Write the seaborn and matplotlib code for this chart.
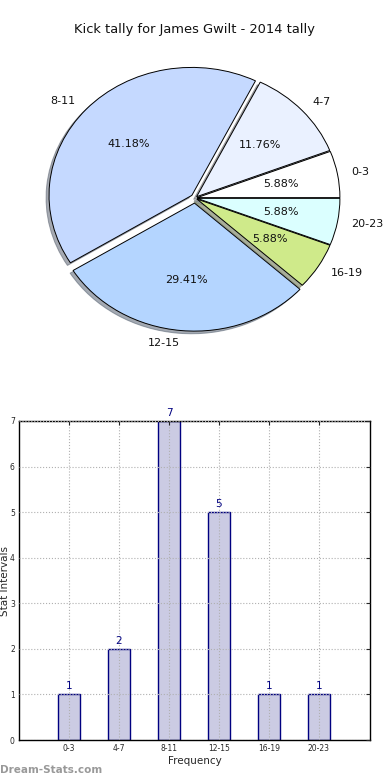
import matplotlib
matplotlib.use("Agg")
import matplotlib.pyplot as plt
import seaborn as sns
import pandas as pd

sns.set_style("white")
plt.rcParams['font.family'] = ['DejaVu Sans']

# ---- data ----
title = "Kick tally for James Gwilt - 2014 tally"
categories = ["0-3", "4-7", "8-11", "12-15", "16-19", "20-23"]
counts = [1, 2, 7, 5, 1, 1]
pie_colors = ["#ffffff", "#eaf1ff", "#c5d9ff", "#b4d5ff", "#cfea8a", "#dbffff"]
explode = [0.015, 0.015, 0.03, 0.04, 0.015, 0.015]
yticks = [0, 1, 2, 3, 4, 5, 6, 7]
xlabel = "Frequency"
ylabel = "Stat Intervals"
watermark = "Dream-Stats.com"

fig = plt.figure(figsize=(3.9, 7.8), dpi=100)

# ---- pie ----
ax1 = fig.add_axes([16.5 / 390, 1 - 358 / 780, 357 / 390, 320 / 780])
wedges, texts, autotexts = ax1.pie(
    counts, labels=categories, colors=pie_colors, explode=explode,
    autopct="%1.2f%%", shadow=dict(ox=-0.015, oy=-0.015, shade=0.6),
    startangle=0, counterclock=True,
    wedgeprops=dict(edgecolor="black", linewidth=0.7),
    textprops=dict(fontsize=8, color="#111111"),
)
ax1.set_aspect("auto")
ax1.set_xlim(-1.25, 1.25)
ax1.set_ylim(-1.25, 1.25)
fig.text(0.5, 1 - 30 / 780, title, ha="center", va="center", fontsize=9.4,
         color="#111111")

# ---- bars ----
ax2 = fig.add_axes([19 / 390, 1 - 740 / 780, 351 / 390, 319 / 780])
df = pd.DataFrame({"interval": categories, "count": counts})
sns.barplot(data=df, x="interval", y="count", ax=ax2, color="#cbcbe3",
            edgecolor="#000080", linewidth=1.0, width=0.45, saturation=1)
for i, v in enumerate(counts):
    ax2.text(i, v + 0.07, str(v), ha="center", va="bottom", fontsize=7.5,
             color="#000080")
ax2.set_xlim(-1, 6.02)
ax2.set_ylim(0, 7)
ax2.set_yticks(yticks)
ax2.set_xlabel(xlabel, fontsize=7.5, labelpad=2)
ax2.set_ylabel(ylabel, fontsize=7.5)
ax2.yaxis.set_label_coords(-0.027, 0.5)
ax2.tick_params(axis="both", labelsize=5.5, direction="in", length=3,
                top=True, right=True, pad=3)
ax2.grid(True, linestyle=":", color="#b0b0b0", linewidth=0.8)
ax2.set_axisbelow(False)
for b in ax2.patches:
    b.set_zorder(1)
for s in ax2.spines.values():
    s.set_color("black")
    s.set_linewidth(1.0)

fig.text(0.0, 1 - 770 / 780, watermark, ha="left", va="center",
         fontsize=7.5, color="#999999", fontweight="bold")

fig.savefig("out.png", dpi=100)
